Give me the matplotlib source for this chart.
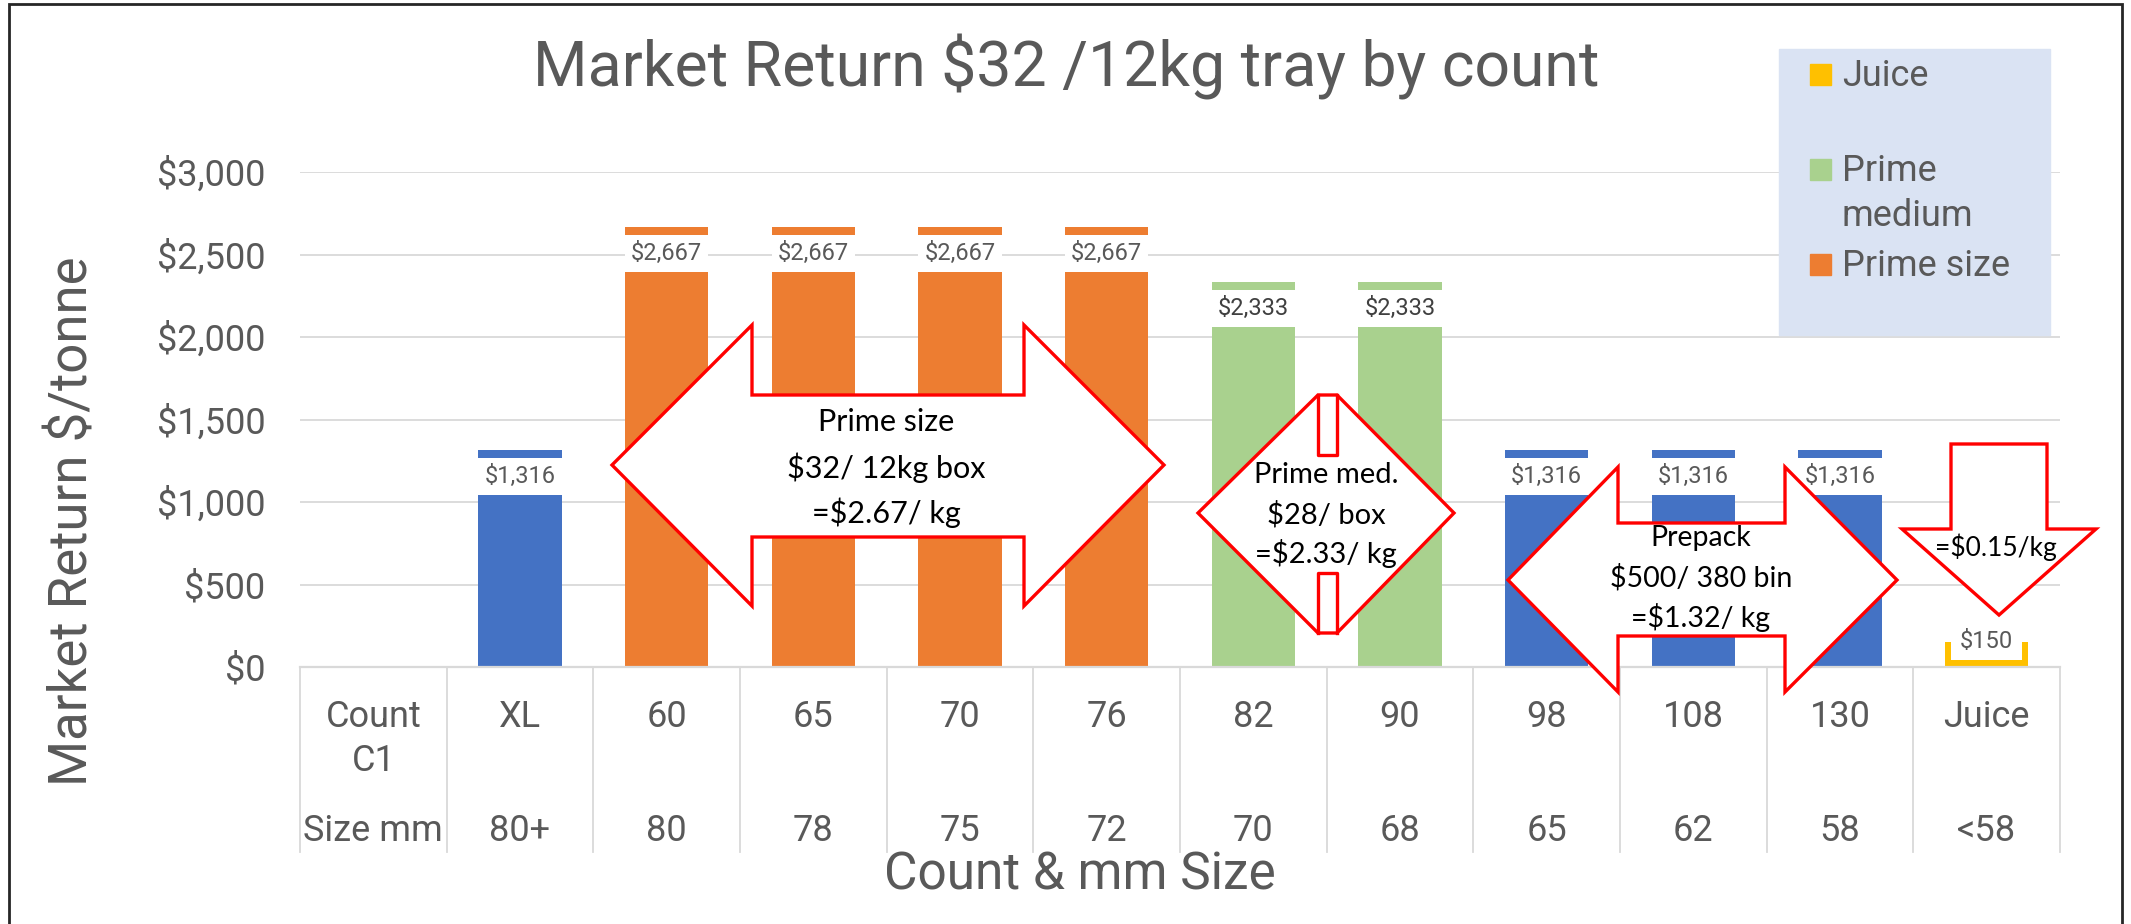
import matplotlib
matplotlib.use("Agg")
import matplotlib.pyplot as plt
import numpy as np
from matplotlib.patches import Polygon, Rectangle
from matplotlib.lines import Line2D
from matplotlib.ticker import FuncFormatter
from matplotlib.transforms import blended_transform_factory

plt.rcParams['font.family'] = ['Roboto', 'DejaVu Sans']

# data
nan = np.nan
counts = ["Count\nC1", "XL", "60", "65", "70", "76", "82", "90", "98", "108", "130", "Juice"]
sizes = ["Size mm", "80+", "80", "78", "75", "72", "70", "68", "65", "62", "58", "<58"]
prepack      = [nan, 1316, nan, nan, nan, nan, nan, nan, 1316, 1316, 1316, nan]
prime_size   = [nan, nan, 2667, 2667, 2667, 2667, nan, nan, nan, nan, nan, nan]
prime_medium = [nan, nan, nan, nan, nan, nan, 2333, 2333, nan, nan, nan, nan]
juice        = [nan, nan, nan, nan, nan, nan, nan, nan, nan, nan, nan, 150]

series = [
    ("Prepack", prepack, "#4472C4", "#595959"),
    ("Prime size", prime_size, "#ED7D31", "#595959"),
    ("Prime medium", prime_medium, "#A9D18E", "#404040"),
    ("Juice", juice, "#FFC000", "#595959"),
]
legend_order = ["Juice", "Prime medium", "Prime size"]

title = "Market Return $32 /12kg tray by count"
GREY = "#595959"
LINE = "#d9d9d9"

W, H = 2131, 924
fig = plt.figure(figsize=(W / 100, H / 100), dpi=100)


def fx(px):
    return px / W


def fy(py):
    return 1 - py / H


ax = fig.add_axes([fx(300), fy(667), 1760 / W, 495 / H])

x = np.arange(len(counts))
bw = 0.57
for name, vals, col, _ in series:
    ax.bar(x, vals, width=bw, color=col, zorder=2, label=name)

# data labels: white box just under the bar top
strip, box_h = 47, 225
for name, vals, col, tcol in series:
    for xi, v in zip(x, vals):
        if np.isnan(v):
            continue
        bottom, w = v - strip - box_h, bw
        if bottom < 0:
            bottom, w = 40, 0.48
        ax.bar(xi, box_h, bottom=bottom, width=w, color="white", zorder=3)
        ax.text(xi, bottom + box_h / 2, "${:,.0f}".format(v), ha="center",
                va="center", fontsize=17, color=tcol, zorder=4)

ax.set_xlim(-0.5, len(counts) - 0.5)
ax.set_ylim(0, 3000)
ax.set_yticks(np.arange(0, 3001, 500))
ax.yaxis.set_major_formatter(FuncFormatter(lambda v, p: "${:,.0f}".format(v)))
ax.tick_params(axis="y", length=0, pad=25, labelsize=26, labelcolor=GREY)
ax.set_xticks([])
ax.grid(axis="y", color=LINE, lw=1.3)
ax.set_axisbelow(True)
for s in ["top", "left", "right"]:
    ax.spines[s].set_visible(False)
ax.spines["bottom"].set_color(LINE)
ax.spines["bottom"].set_linewidth(1.6)

# category table under the axis
trans = blended_transform_factory(ax.transData, fig.transFigure)
for b in np.arange(-0.5, len(counts), 1.0):
    ax.add_line(Line2D([b, b], [fy(667), fy(852)], transform=trans, color=LINE,
                       lw=1.3, clip_on=False))
for xi, c, s in zip(x, counts, sizes):
    for k, line in enumerate(c.split("\n")):
        ax.text(xi, fy(727 + 44 * k), line, transform=trans, ha="center",
                va="baseline", fontsize=26, color=GREY)
    ax.text(xi, fy(841), s, transform=trans, ha="center", va="baseline",
            fontsize=26, color=GREY)

# titles
fig.text(fx(1066), fy(86), title, ha="center", va="baseline", fontsize=45, color=GREY)
fig.text(fx(1080), fy(890), "Count & mm Size", ha="center", va="baseline",
         fontsize=37, color=GREY)
fig.text(fx(73), fy(521), "Market Return $/tonne", rotation=90, ha="center",
         va="center", fontsize=38, color=GREY)

# legend
fig.add_artist(Rectangle((fx(1779), fy(335)), 271 / W, 286 / H,
                         transform=fig.transFigure, color="#DAE3F3", zorder=5))
colors = {n: c for n, _, c, _ in series}
legend_pos = {"Juice": (64, [86]), "Prime medium": (159, [181, 226]),
              "Prime size": (254, [276])}
for name in legend_order:
    top, bases = legend_pos[name]
    fig.add_artist(Rectangle((fx(1810), fy(top + 21)), 21 / W, 21 / H,
                             transform=fig.transFigure, color=colors[name], zorder=6))
    words = ["Prime", "medium"] if name == "Prime medium" else [name]
    for wd, b in zip(words, bases):
        fig.text(fx(1842), fy(b), wd, ha="left", va="baseline", fontsize=26,
                 color=GREY, zorder=7)


# red call-out arrows
def callout(pts, **kw):
    p = Polygon([(fx(a), fy(b)) for a, b in pts], closed=True, transform=fig.transFigure,
                facecolor="white", edgecolor="#FF0000", lw=2.4, joinstyle="miter",
                zorder=8, **kw)
    fig.add_artist(p)


def note(cx, ys, lines, size):
    for yy, t in zip(ys, lines):
        fig.text(fx(cx), fy(yy), t, ha="center", va="center", fontsize=size,
                 family="Lato", color="black", zorder=9)


callout([(612, 465), (752, 325), (752, 395), (1024, 395), (1024, 325), (1164, 465),
         (1024, 606), (1024, 537), (752, 537), (752, 606)])
note(886, [422, 468, 513], ["Prime size", "$32/ 12kg box", "=$2.67/ kg"], 22)

callout([(1318, 395), (1337, 395), (1454, 513), (1337, 633), (1318, 633), (1198, 513)])
for seg in ([(1318, 395), (1318, 455), (1337, 455), (1337, 395)],
            [(1318, 633), (1318, 573), (1337, 573), (1337, 633)]):
    fig.add_artist(Line2D([fx(a) for a, b in seg], [fy(b) for a, b in seg],
                          transform=fig.transFigure, color="#FF0000", lw=2.4, zorder=8))
note(1326, [475, 515, 553], ["Prime med.", "$28/ box", "=$2.33/ kg"], 21)

callout([(1508, 580), (1618, 467), (1618, 523), (1785, 523), (1785, 467), (1897, 580),
         (1785, 692), (1785, 636), (1618, 636), (1618, 692)])
note(1701, [538, 578, 617], ["Prepack", "$500/ 380 bin", "=$1.32/ kg"], 20.5)

callout([(1951, 444), (2047, 444), (2047, 529), (2096, 529), (1999, 615), (1902, 529),
         (1951, 529)])
note(1996, [547], ["=$0.15/kg"], 19)

# outer frame
fig.add_artist(Rectangle((fx(9), fy(940)), 2113 / W, 936 / H, transform=fig.transFigure,
                         fill=False, edgecolor="#262626", lw=2, clip_on=False, zorder=10))

fig.savefig("out.png", dpi=100)
